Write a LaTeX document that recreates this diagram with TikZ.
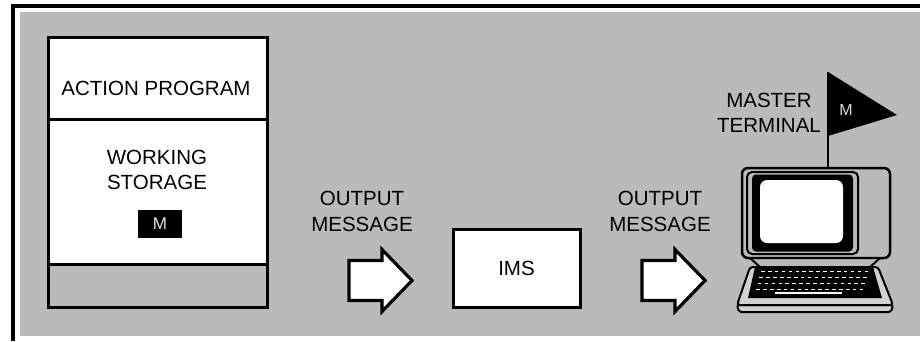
\documentclass[tikz,border=0pt]{standalone}
\usepackage{fontspec}
\setmainfont{Liberation Sans}
\begin{document}
\begin{tikzpicture}[x=1pt,y=-1pt,
  every node/.style={inner sep=0pt, outer sep=0pt},
  lbl/.style={font=\fontsize{20.5}{25.5}\selectfont, align=center},
  panel/.style={draw, line width=3pt, fill=white, rectangle},
  arrowline/.style={draw, fill=white, line width=3.2pt, line join=miter},
  blockarrow/.pic={
    \path[arrowline] (0,-20) -- (33,-20) -- (33,-31) -- (63,0) -- (33,31)
      -- (33,20) -- (0,20) -- cycle;
  },
]
\definecolor{halftone}{gray}{0.73}
\definecolor{basegray}{gray}{0.82}
\useasboundingbox (0,0) rectangle (920,341);

% page and shaded field with its frame
\fill[white] (0,0) rectangle (920,341);
\fill[halftone] (20,12) rectangle (920,336);
\draw[line width=4pt] (13,341) -- (13,5.5) -- (920,5.5);

% program region: action program, working storage, lower part
\node[panel, minimum width=219pt, minimum height=82pt, anchor=north west] (prog) at (48,37) {};
\node[panel, minimum width=219pt, minimum height=145pt, anchor=north west] (ws) at (48,119) {};
\node[panel, fill=halftone, minimum width=219pt, minimum height=43pt, anchor=north west] (foot) at (48,264) {};
\node[lbl] (progtxt) at (156,88.5) {ACTION PROGRAM};
\node[lbl] (wstxt) at (157,170) {WORKING\\STORAGE};
\node[fill=black, minimum width=44pt, minimum height=28pt, text=black!12,
      font=\fontsize{17}{17}\selectfont] (mark) at (160,224) {M};

% message flow
\node[lbl] (out1) at (362,211.5) {OUTPUT\\MESSAGE};
\pic (arr1) at (349,280.5) {blockarrow};
\node[panel, lbl, minimum width=127pt, minimum height=78pt] (ims) at (516.5,268) {IMS};
\node[lbl] (out2) at (660,211.5) {OUTPUT\\MESSAGE};
\pic (arr2) at (642,280.5) {blockarrow};

% master terminal flag
\node[lbl] (master) at (769,112.75) {MASTER\\TERMINAL};
\coordinate (poletop) at (828,72);
\fill (poletop) -- (897,115) -- (828,136) -- cycle;
\node[text=black!15, font=\fontsize{16}{16}\selectfont] (flagm) at (846,110) {M};

% terminal: monitor
\node[draw, line width=2.5pt, fill=halftone, rounded corners=6pt,
      minimum width=148pt, minimum height=90pt, anchor=north west] (monitor) at (742,168) {};
\draw[line width=2pt] (poletop) -- (poletop |- monitor.north);
\node[draw, line width=2pt, fill=halftone, rounded corners=5pt,
      minimum width=111pt, minimum height=82pt, anchor=north west] (bezel) at (747,172) {};
\node[fill=black, rounded corners=4pt,
      minimum width=101pt, minimum height=77pt, anchor=north west] (tube) at (752,174.5) {};
\node[fill=white, rounded corners=7pt,
      minimum width=83pt, minimum height=63pt, anchor=north west] (display) at (760,180) {};

% terminal: stand and keyboard
\draw[line width=2pt, fill=halftone] (750,258) -- (880,258) -- (870,267) -- (760,267) -- cycle;
\draw[line width=2pt, fill=basegray, rounded corners=2pt]
  (737,305) -- (893,305) -- (891,312) -- (739,312) -- cycle;
\draw[line width=2pt, fill=basegray, rounded corners=3pt]
  (750,267) -- (878,267) -- (893,305) -- (737,305) -- cycle;
\fill[black] (755,267) -- (873,267) -- (882,298) -- (748,298) -- cycle;
\foreach \r/\yy in {0/270.5,1/276.5,2/282.5,3/288.5}{
  \foreach \i in {0,...,15}{
    \fill[white] ({761-\r*1.6+\i*6.9},\yy) rectangle ++(3.6,1.7);
  }
}
\fill[white] (775,291.5) rectangle (842,294);
\end{tikzpicture}
\end{document}
